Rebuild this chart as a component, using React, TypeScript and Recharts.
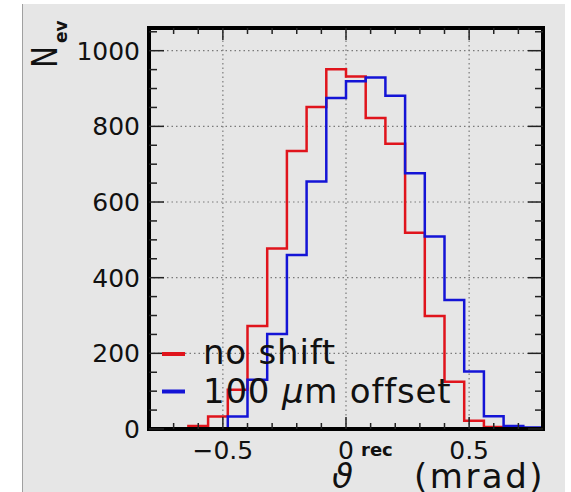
import { LineChart, Line, XAxis, YAxis, ReferenceLine, Legend } from "recharts";

const FONT = "DejaVu Sans";
const RED = "#e0141c";
const BLUE = "#1414d6";

// histogram bin edges (mrad), 0.08 wide
const BIN_EDGES = [
  -0.8, -0.72, -0.64, -0.56, -0.48, -0.4, -0.32, -0.24, -0.16, -0.08, 0,
  0.08, 0.16, 0.24, 0.32, 0.4, 0.48, 0.56, 0.64, 0.72, 0.8,
];
// counts per bin
const NO_SHIFT = [0, 1, 8, 33, 104, 272, 477, 735, 851, 951, 932, 822, 754, 519, 299, 125, 22, 5, 2, 0];
const OFFSET_100 = [0, 0, 0, 2, 33, 130, 251, 460, 654, 875, 919, 929, 881, 676, 509, 341, 152, 34, 8, 4];

const X_MIN = -0.8;
const X_MAX = 0.8;
const Y_MAX = 1060;
const X_TICKS = [-0.7, -0.6, -0.5, -0.4, -0.3, -0.2, -0.1, 0, 0.1, 0.2, 0.3, 0.4, 0.5, 0.6, 0.7];
const X_MAJOR = [-0.5, 0, 0.5];
const X_LABELS = ["\u22120.5", "0", "0.5"];
const Y_TICKS = [0, 50, 100, 150, 200, 250, 300, 350, 400, 450, 500, 550, 600, 650, 700, 750, 800, 850, 900, 950, 1000, 1050];
const Y_MAJOR = [0, 200, 400, 600, 800, 1000];

const SERIES = [
  { key: "noShift", name: "no shift", color: RED },
  { key: "offset", name: "100 μm offset", color: BLUE },
];

// step lines need one point per edge; last edge repeats the last bin
const rows = BIN_EDGES.map((x, i) => {
  const b = Math.min(i, NO_SHIFT.length - 1);
  return { x, noShift: NO_SHIFT[b], offset: OFFSET_100[b] };
});

const TICK = { stroke: "#222", strokeWidth: 1.5 };
const FRAME = { stroke: "#000", strokeWidth: 4, strokeLinecap: "square" as const };

function BottomTick(p: any) {
  const v = p.payload.value;
  const mi = X_MAJOR.indexOf(v);
  return (
    <g>
      <line x1={p.x} x2={p.x} y1={p.y} y2={p.y - (mi >= 0 ? 12 : 6)} {...TICK} />
      {mi >= 0 && (
        <text x={p.x} y={p.y + 12} dy="0.71em" textAnchor="middle" fontSize={25} fontFamily={FONT} fill="#111">
          {X_LABELS[mi]}
        </text>
      )}
    </g>
  );
}

function TopTick(p: any) {
  const major = X_MAJOR.includes(p.payload.value);
  return <line x1={p.x} x2={p.x} y1={p.y} y2={p.y + (major ? 12 : 6)} {...TICK} />;
}

function LeftTick(p: any) {
  const v = p.payload.value;
  const major = Y_MAJOR.includes(v);
  return (
    <g>
      <line x1={p.x} x2={p.x + (major ? 15 : 8)} y1={p.y} y2={p.y} {...TICK} />
      {major && (
        <text x={p.x - 9} y={p.y} dy="0.36em" textAnchor="end" fontSize={25} fontFamily={FONT} fill="#111">
          {v}
        </text>
      )}
    </g>
  );
}

function RightTick(p: any) {
  const major = Y_MAJOR.includes(p.payload.value);
  return <line x1={p.x} x2={p.x - (major ? 15 : 8)} y1={p.y} y2={p.y} {...TICK} />;
}

function YTitle(p: any) {
  const vb = p.viewBox;
  return (
    <g transform={`translate(${vb.x + 57},${vb.y + 40}) rotate(-90)`} fontFamily={FONT} fill="#111">
      <text x={0} y={0} fontSize={36} textLength={22} lengthAdjust="spacingAndGlyphs">N</text>
      <text x={25} y={10} fontSize={17} fontWeight="bold">ev</text>
    </g>
  );
}

function XTitle(p: any) {
  const vb = p.viewBox;
  const bx = vb.x;
  const by = vb.y;
  return (
    <g fontFamily={FONT} fill="#111">
      <text x={bx + 183} y={by + 59} fontSize={34} fontStyle="italic">ϑ</text>
      <text x={bx + 205} y={by + 74} fontSize={17} fontWeight="bold">x</text>
      <text x={bx + 212} y={by + 27} fontSize={18} fontWeight="bold">rec</text>
      <text x={bx + 265} y={by + 59} fontSize={34} letterSpacing={2.5}>(mrad)</text>
    </g>
  );
}

function LegendBox() {
  return (
    <svg width={330} height={90} style={{ display: "block", overflow: "visible" }}>
      {SERIES.map((s, i) => (
        <g key={s.key}>
          <line x1={12} x2={35} y1={24 + i * 37.5} y2={24 + i * 37.5} stroke={s.color} strokeWidth={4} />
          <text x={53} y={34 + i * 38.5} fontSize={34} fontFamily={FONT} fill="#111" letterSpacing={0.8}>
            {s.name.split("μ").map((part, j) =>
              j === 0 ? part : [<tspan key="mu" fontStyle="italic">μ</tspan>, part]
            )}
          </text>
        </g>
      ))}
    </svg>
  );
}

export default function App() {
  return (
    <div style={{ position: "absolute", left: 0, top: 0, width: 571, height: 492, background: "#fff", overflow: "hidden" }}>
      <div
        style={{
          position: "absolute",
          left: 22,
          top: 4,
          width: 542,
          height: 488,
          background: "#e6e6e6",
          borderLeft: "1px solid #a0a0a0",
        }}
      />
      <div style={{ position: "absolute", left: 0, top: 0 }}>
        <LineChart width={571} height={492} data={rows} margin={{ top: 28, right: 28, bottom: 0, left: 0 }}>
          <XAxis
            dataKey="x"
            type="number"
            domain={[X_MIN, X_MAX]}
            allowDataOverflow
            ticks={X_TICKS}
            interval={0}
            tick={BottomTick}
            tickLine={false}
            axisLine={FRAME}
            tickSize={0}
            tickMargin={0}
            height={63}
            label={XTitle}
          />
          <XAxis
            xAxisId="top"
            dataKey="x"
            orientation="top"
            mirror
            type="number"
            domain={[X_MIN, X_MAX]}
            allowDataOverflow
            ticks={X_TICKS}
            interval={0}
            tick={TopTick}
            tickLine={false}
            axisLine={FRAME}
            tickSize={0}
            tickMargin={0}
          />
          <YAxis
            type="number"
            domain={[0, Y_MAX]}
            allowDataOverflow
            ticks={Y_TICKS}
            interval={0}
            tick={LeftTick}
            tickLine={false}
            axisLine={FRAME}
            tickSize={0}
            tickMargin={0}
            width={149}
            label={YTitle}
          />
          <YAxis
            yAxisId="right"
            orientation="right"
            mirror
            type="number"
            domain={[0, Y_MAX]}
            allowDataOverflow
            ticks={Y_TICKS}
            interval={0}
            tick={RightTick}
            tickLine={false}
            axisLine={FRAME}
            tickSize={0}
            tickMargin={0}
          />
          {X_MAJOR.map((v) => (
            <ReferenceLine key={`gx${v}`} x={v} stroke="#7a7a7a" strokeWidth={1.2} strokeDasharray="1.5 3" />
          ))}
          {Y_MAJOR.filter((v) => v > 0).map((v) => (
            <ReferenceLine key={`gy${v}`} y={v} stroke="#7a7a7a" strokeWidth={1.2} strokeDasharray="1.5 3" />
          ))}
          {SERIES.map((s) => (
            <Line
              key={s.key}
              dataKey={s.key}
              name={s.name}
              type="stepAfter"
              stroke={s.color}
              strokeWidth={2.5}
              dot={false}
              activeDot={false}
              isAnimationActive={false}
            />
          ))}
          <Legend
            layout="vertical"
            align="center"
            verticalAlign="middle"
            content={LegendBox}
            wrapperStyle={{ position: "absolute", left: 150, top: 330, width: 330, height: 90 }}
          />
        </LineChart>
      </div>
    </div>
  );
}
